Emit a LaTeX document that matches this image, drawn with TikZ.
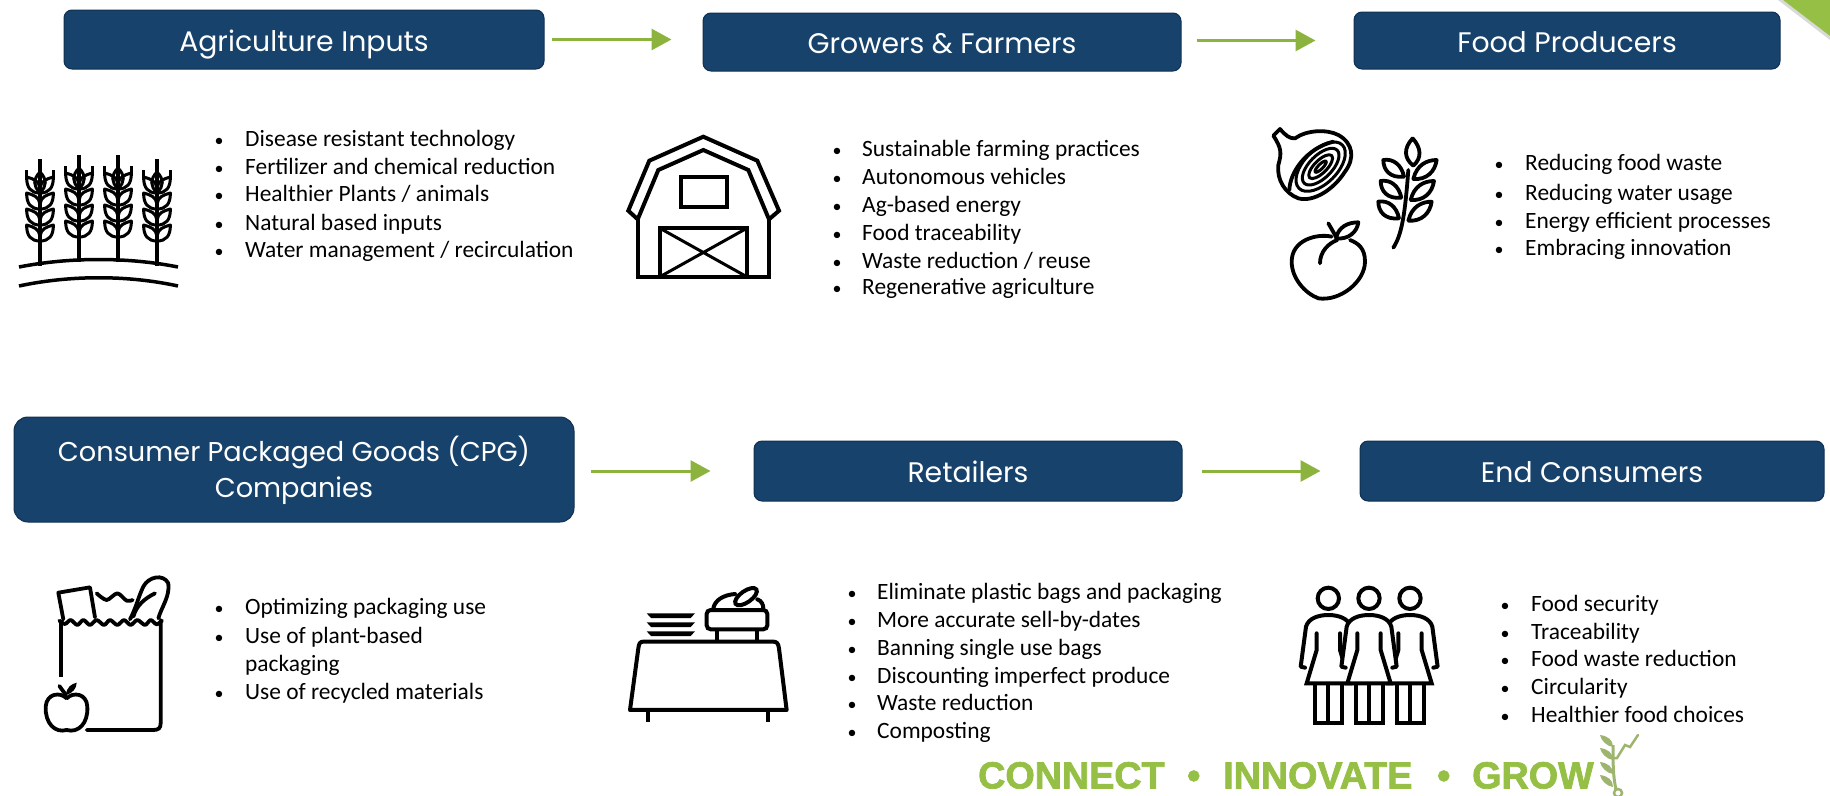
\documentclass[tikz,border=0pt]{standalone}
\usepackage{fontspec}
\setmainfont{Carlito}
\newfontfamily\boxfont{Poppins}
\newfontfamily\tagfont{Liberation Sans}[BoldFeatures={FakeBold=2}]
\usetikzlibrary{arrows.meta}
\definecolor{boxblue}{HTML}{17426B}
\definecolor{boxedge}{HTML}{10304F}
\definecolor{leafgreen}{HTML}{8DB33F}
\definecolor{taggreen}{HTML}{95C045}
\definecolor{sproutgreen}{HTML}{9DB56E}
\tikzset{
  stagebox/.style={draw=boxedge, fill=boxblue, line width=1pt, rounded corners=8pt, text=white, align=center,
    text height=26pt, text depth=2.6pt, inner sep=0pt, font=\boxfont\fontsize{28.3}{35}\selectfont},
  flowarrow/.style={draw=leafgreen, line width=3pt, -{Triangle[length=20pt,width=21pt]}},
  itemtext/.style={anchor=mid west, inner sep=0pt, yshift=-5.5pt, font=\fontsize{23.4}{26}\selectfont},
  itemdot/.style={anchor=mid, inner sep=0pt, yshift=-5pt, font=\fontsize{18}{26}\selectfont},
  tagtext/.style={anchor=mid west, inner sep=0pt, text=taggreen, font=\tagfont\bfseries\fontsize{37.7}{40}\selectfont},
  icon/.style={line width=3.8pt, line join=round, line cap=round},
  wheatstalk/.pic={
    \draw[line width=3.2pt] (0,0) -- (0,107);
    \draw[line width=3pt] (0,13) .. controls (7,20) and (7,28) .. (0,33) .. controls (-7,28) and (-7,20) .. (0,13);
    \draw[line width=3pt] (-13.4,11) -- (-13.4,18) (13.4,11) -- (13.4,18);
    \foreach \yb in {34,50,66,82}{
      \draw[line width=3pt, line join=round] (0,\yb) .. controls (-9,\yb) and (-13.4,\yb-5) .. (-13.4,\yb-16) .. controls (-6,\yb-14) and (-1,\yb-12) .. (0,\yb-5);
      \draw[line width=3pt, line join=round] (0,\yb) .. controls (9,\yb) and (13.4,\yb-5) .. (13.4,\yb-16) .. controls (6,\yb-14) and (1,\yb-12) .. (0,\yb-5);
    }
  },
  personfig/.pic={
    \fill[white] (-83,210) -- (-67,85) .. controls (-60,60) and (-30,50) .. (0,50) .. controls (30,50) and (60,60) .. (67,85) -- (83,210) -- (65,255) -- (-65,255) -- cycle;
    \draw[line width=4pt] (0,0) circle (32);
    \draw[line width=4pt, line cap=round, line join=round] (-70,208) -- (-83,205) -- (-67,85) .. controls (-60,60) and (-30,50) .. (0,50) .. controls (30,50) and (60,60) .. (67,85) -- (83,205) -- (70,208);
    \draw[line width=4pt, line cap=round, line join=miter] (-35,105) -- (-35,155) -- (-65,255) -- (65,255) -- (35,155) -- (35,105);
    \draw[line width=4pt, line join=miter] (-40,255) -- (-40,373) -- (42,373) -- (42,255) (0,255) -- (0,373);
  }
}
\begin{document}
\begin{tikzpicture}[x=1pt,y=-1pt]
  \path[use as bounding box] (0,0) rectangle (1830,795);
  \fill[gray!30] (1778,0) -- (1830,40) -- (1830,36) -- (1783,0) -- cycle;
  \fill[taggreen] (1783,0) -- (1830,36) -- (1830,0) -- cycle;

  \node[stagebox, minimum width=480, minimum height=59] (inputs) at (304,39.5) {Agriculture Inputs};
  \node[stagebox, minimum width=478, minimum height=58] (growers) at (942,42) {Growers \& Farmers};
  \node[stagebox, minimum width=426, minimum height=57] (producers) at (1567,40.5) {Food Producers};
  \node[stagebox, minimum width=560, minimum height=105, rounded corners=14pt, text height=62pt, text depth=7pt, font=\boxfont\fontsize{27.2}{35.5}\selectfont] (cpg) at (294,469.5) {Consumer Packaged Goods (CPG)\\Companies};
  \node[stagebox, minimum width=428, minimum height=60] (retailers) at (968,471) {Retailers};
  \node[stagebox, minimum width=464, minimum height=60] (consumers) at (1592,471) {End Consumers};

  \draw[flowarrow, shorten <=7pt, shorten >=31pt] (inputs.east) -- (inputs.east -| growers.west);
  \draw[flowarrow, shorten <=15pt, shorten >=38pt, yshift=1pt] (producers.west -| growers.east) -- (producers.west);
  \draw[flowarrow, shorten <=16pt, shorten >=43pt] (retailers.west -| cpg.east) -- (retailers.west);
  \draw[flowarrow, shorten <=19pt, shorten >=39pt] (retailers.east) -- (consumers.west);

  \foreach \y/\txt [count=\i] in {139/Disease resistant technology, 167/Fertilizer and chemical reduction, 194/{Healthier Plants / animals}, 223/Natural based inputs, 250/{Water management / recirculation}}{
    \node[itemdot] (inputsdot\i) at (219,\y) {•};
    \node[itemtext] (inputsitem\i) at (245,\y) {\txt};
  }
  \foreach \y/\txt [count=\i] in {149/Sustainable farming practices, 177/Autonomous vehicles, 205/Ag-based energy, 233/Food traceability, 261/{Waste reduction / reuse}, 287/Regenerative agriculture}{
    \node[itemdot] (growersdot\i) at (837,\y) {•};
    \node[itemtext] (growersitem\i) at (862,\y) {\txt};
  }
  \foreach \y/\txt [count=\i] in {163/Reducing food waste, 193/Reducing water usage, 221/Energy efficient processes, 248/Embracing innovation}{
    \node[itemdot] (producersdot\i) at (1499,\y) {•};
    \node[itemtext] (producersitem\i) at (1525,\y) {\txt};
  }
  \foreach \y/\txt [count=\i] in {607/Optimizing packaging use, 636/Use of plant-based, 692/Use of recycled materials}{
    \node[itemdot] (cpgdot\i) at (219,\y) {•};
    \node[itemtext] (cpgitem\i) at (245,\y) {\txt};
  }
  \node[itemtext] (cpgitemwrap) at (245,664) {packaging};
  \foreach \y/\txt [count=\i] in {592/Eliminate plastic bags and packaging, 620/More accurate sell-by-dates, 648/Banning single use bags, 676/Discounting imperfect produce, 703/Waste reduction, 731/Composting}{
    \node[itemdot] (retailersdot\i) at (852,\y) {•};
    \node[itemtext] (retailersitem\i) at (877,\y) {\txt};
  }
  \foreach \y/\txt [count=\i] in {604/Food security, 632/Traceability, 659/Food waste reduction, 687/Circularity, 715/Healthier food choices}{
    \node[itemdot] (consumersdot\i) at (1505,\y) {•};
    \node[itemtext] (consumersitem\i) at (1531,\y) {\txt};
  }

  \pic at (40,159) {wheatstalk};
  \pic at (79,155) {wheatstalk};
  \pic at (118,155) {wheatstalk};
  \pic at (157,159) {wheatstalk};
  \draw[line width=3.5pt] (19,267) .. controls (70,257) and (128,257) .. (178,267);
  \draw[line width=3.5pt] (19,286) .. controls (70,275) and (128,275) .. (178,286);

  \draw[line width=4pt, line join=miter] (637.7,219.3) -- (628.3,210.7) -- (649.3,160.7) -- (703.3,136.7) -- (757.3,160.7) -- (779,210.7) -- (769,219.3) -- (748.3,170) -- (703.3,150) -- (658.3,170) -- cycle;
  \draw[line width=4pt, line join=miter] (637.7,219.3) -- (637.7,276.7) -- (769,276.7) -- (769,219.3);
  \draw[line width=4pt] (680.7,176.7) rectangle (726.7,207.3);
  \draw[line width=4pt] (660,276.7) rectangle (746.7,228.3);
  \draw[line width=3pt] (660,228.3) -- (746.7,276.7) (746.7,228.3) -- (660,276.7);

  \begin{scope}[shift={(1250,115)},x=0.3333pt,y=-0.3333pt,icon]
    \draw (70,62) -- (90,42) .. controls (105,60) and (120,72) .. (135,70) .. controls (170,45) and (230,42) .. (265,60) .. controls (310,85) and (315,130) .. (285,170) .. controls (250,225) and (190,262) .. (145,250) .. controls (105,235) and (80,195) .. (85,150) .. controls (95,115) and (95,100) .. (70,62);
    \draw (118,225) .. controls (120,170) and (170,100) .. (250,80);
    \foreach \rx/\ry in {92/50,70/34,47/19,23/7}{
      \draw[line width=3pt] (212,155) circle [x radius=\rx, y radius=\ry, rotate=45];
    }
    \draw (430,398) .. controls (455,360) and (465,300) .. (475,165);
    \draw (488,70) .. controls (515,100) and (515,130) .. (490,152) .. controls (462,130) and (460,100) .. (488,70);
    \foreach \dx/\dy in {0/0,-8/63,-15/125}{
      \draw (490+\dx,192+\dy) .. controls (500+\dx,150+\dy) and (530+\dx,135+\dy) .. (560+\dx,135+\dy) .. controls (555+\dx,170+\dy) and (530+\dx,195+\dy) .. (490+\dx,192+\dy);
      \draw (462+\dx,185+\dy) .. controls (420+\dx,190+\dy) and (400+\dx,165+\dy) .. (400+\dx,135+\dy) .. controls (430+\dx,130+\dy) and (455+\dx,150+\dy) .. (462+\dx,185+\dy);
    }
    \draw (210,445) .. controls (210,410) and (235,385) .. (262,375);
    \draw (245,365) .. controls (200,355) and (125,375) .. (125,440) .. controls (125,490) and (165,535) .. (205,550) .. controls (270,560) and (345,500) .. (345,440) .. controls (345,400) and (325,385) .. (300,375);
    \draw (235,325) -- (258,365);
    \draw (258,370) .. controls (265,335) and (295,322) .. (325,322) .. controls (322,350) and (295,375) .. (258,370);
  \end{scope}

  \begin{scope}[shift={(30,560)},x=0.3333pt,y=-0.3333pt,icon]
    \draw[line cap=butt] (92,180) -- (92,350);
    \draw (392,180) -- (392,490) .. controls (392,505) and (385,510) .. (370,510) -- (170,510);
    \draw plot[smooth] coordinates {(88,182) (105,192) (122,180) (142,195) (160,180) (180,195) (200,180) (222,195) (240,180) (262,195) (282,180) (302,195) (322,180) (345,195) (362,180) (380,193) (396,182)};
    \draw (100,178) -- (85,98) -- (180,82) -- (195,172);
    \draw plot[smooth] coordinates {(200,100) (230,120) (262,100) (290,122) (308,120)};
    \draw (300,178) .. controls (320,140) and (325,110) .. (340,80) .. controls (355,50) and (400,40) .. (415,70) .. controls (420,110) and (395,140) .. (385,175);
    \draw (375,100) .. controls (345,115) and (320,135) .. (310,170);
    \draw (110,415) .. controls (90,395) and (50,400) .. (47,440) .. controls (45,490) and (75,520) .. (110,510) .. controls (145,520) and (175,490) .. (172,440) .. controls (170,400) and (130,395) .. (110,415);
    \draw (88,378) -- (108,405);
    \fill (108,405) .. controls (110,380) and (125,372) .. (140,368) .. controls (140,385) and (128,400) .. (108,405);
  \end{scope}

  \begin{scope}[shift={(620,570)},x=0.3333pt,y=-0.3333pt]
    \foreach \dy in {0,27,54}{
      \fill (80,130+\dy) -- (225,130+\dy) -- (212,144+\dy) -- (93,144+\dy) -- cycle;
    }
    \draw[line width=4pt, line join=round] (30,420) -- (55,235) .. controls (57,220) and (60,215) .. (70,215) -- (460,215) .. controls (470,215) and (475,220) .. (477,235) -- (500,420) -- cycle;
    \draw[line width=4pt] (85,420) -- (85,455) (445,420) -- (445,455);
    \draw[line width=4pt, rounded corners=4pt] (260,120) rectangle (442,178);
    \draw[line width=4pt] (290,178) -- (290,210) (410,178) -- (410,210);
    \draw[line width=4pt, line cap=round] (280,115) .. controls (285,90) and (310,75) .. (345,72);
    \draw[line width=4pt, line cap=round] (412,88) .. controls (425,92) and (430,105) .. (430,115);
    \draw[line width=4pt] (378,80) circle [x radius=38, y radius=17, rotate=35];
  \end{scope}

  \begin{scope}[shift={(1280,570)},x=0.3333pt,y=-0.3333pt]
    \pic at (145,85) {personfig};
    \pic at (390,85) {personfig};
    \pic at (267,85) {personfig};
  \end{scope}

  \node[tagtext] (tagconnect) at (978,786) {CONNECT};
  \node[tagtext] (tagdotone) at (1187,786) {•};
  \node[tagtext] (taginnovate) at (1223,786) {INNOVATE};
  \node[tagtext] (tagdottwo) at (1437,786) {•};
  \node[tagtext] (taggrow) at (1472,786) {GROW};

  \draw[sproutgreen, line width=2.5pt, line cap=round] (1613,758) -- (1617,758) -- (1625,745) -- (1630,747) -- (1638,735);
  \draw[sproutgreen, line width=2.5pt] (1618,793) circle (4);
  \draw[sproutgreen, line width=3pt] (1616,790) .. controls (1613,775) and (1613,765) .. (1613,745);
  \foreach \ly in {740,753,767,780}{
    \fill[sproutgreen] (1613,\ly+7) .. controls (1606,\ly+6) and (1601,\ly) .. (1600,\ly-5) .. controls (1608,\ly-4) and (1613,\ly) .. (1613,\ly+7);
  }
\end{tikzpicture}
\end{document}
